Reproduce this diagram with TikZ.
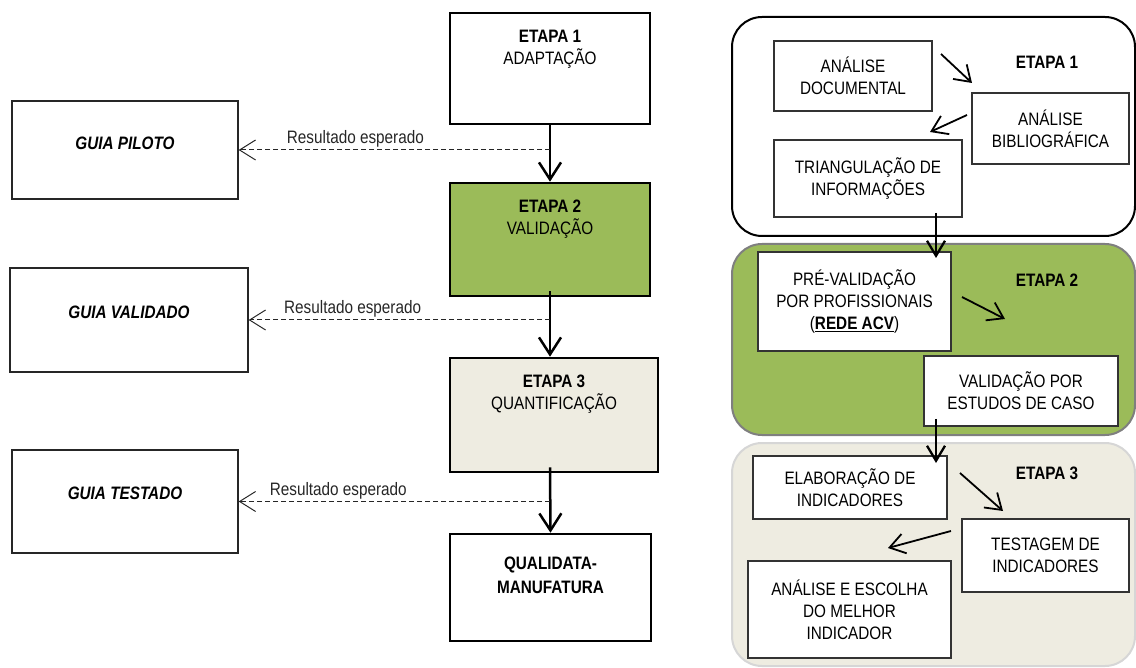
\documentclass[tikz,border=0pt]{standalone}
\usepackage{fontspec}
\setmainfont[FakeStretch=0.85]{Liberation Sans}
\usetikzlibrary{arrows.meta,calc}
\definecolor{stgreen}{HTML}{9BBB59}
\definecolor{stbeige}{HTML}{EEECE1}
\definecolor{panelgray}{HTML}{7F7F7F}
\definecolor{panellight}{HTML}{D6D6D6}
\begin{document}
\begin{tikzpicture}[x=1pt,y=-1pt,
  txt/.style={font=\fontsize{18}{22}\selectfont, align=center, text=black, inner sep=2pt},
  stagebox/.style={draw=black, line width=2.6pt, inner sep=0pt},
  guidebox/.style={draw=black!85, line width=1.3pt, inner sep=0pt},
  guidetxt/.style={font=\fontsize{18}{22}\selectfont\bfseries\itshape, inner sep=0pt},
  subbox/.style={draw=black!80, line width=1.2pt, fill=white, txt},
  panel/.style={rounded corners=30pt, line width=2pt, inner sep=0pt},
  flow/.style={line width=2.5pt, -{Straight Barb[length=17pt,width=22pt]}},
  rflow/.style={line width=2.3pt, -{Straight Barb[length=15pt,width=18pt]}},
  small/.style={line width=1.8pt, -{Straight Barb[length=15pt,width=20pt]}},
  res/.style={dash pattern=on 5pt off 3pt, line width=1pt, black!85, -{Straight Barb[length=16pt,width=20pt,line width=1pt]}},
  reslabel/.style={font=\fontsize{18}{20}\selectfont, anchor=south, inner sep=2pt}]
\useasboundingbox (0,0) rectangle (1136,668);

% ---------- left column ----------
\node[stagebox, minimum width=200pt, minimum height=111pt] (e1) at (550,68.5) {};
\node[txt, anchor=north] (e1t) at ([yshift=-16pt]e1.north) {\textbf{ETAPA 1}\\ADAPTAÇÃO};

\node[stagebox, fill=stgreen, minimum width=200pt, minimum height=113pt] (e2) at (550,239.5) {};
\node[txt, anchor=north] (e2t) at ([yshift=-16pt]e2.north) {\textbf{ETAPA 2}\\VALIDAÇÃO};

\node[stagebox, fill=stbeige, minimum width=208pt, minimum height=114pt] (e3) at (554,415) {};
\node[txt, anchor=north] (e3t) at ([yshift=-16pt]e3.north) {\textbf{ETAPA 3}\\QUANTIFICAÇÃO};

\node[stagebox, minimum width=201pt, minimum height=107pt] (q) at (550.5,587.5) {};
\node[txt, anchor=north, font=\fontsize{18}{24}\selectfont\bfseries] (qt) at ([yshift=-22pt]q.north) {QUALIDATA-\\MANUFATURA};

\node[guidebox, minimum width=226pt, minimum height=98pt] (g1) at (125,150) {};
\node[guidetxt] (g1t) at ([yshift=7pt]g1.center) {GUIA PILOTO};
\node[guidebox, minimum width=238pt, minimum height=104pt] (g2) at (129,320) {};
\node[guidetxt] (g2t) at ([yshift=8pt]g2.center) {GUIA VALIDADO};
\node[guidebox, minimum width=226pt, minimum height=103pt] (g3) at (125,501.5) {};
\node[guidetxt] (g3t) at ([yshift=8pt]g3.center) {GUIA TESTADO};

% vertical flow
\coordinate (s2) at (e1.south |- e2.south);
\coordinate (s3) at (e1.south |- e3.south);
\coordinate (t3) at (e1.south |- e3.north);
\draw[flow] (e1.south) -- (e2.north);
\draw[flow] ([yshift=6pt]s2) -- (t3);
\draw[flow] ([yshift=6pt]s3) -- (q.north);

% expected results
\coordinate (d1) at (e1.south |- g1.east);
\coordinate (d2) at (e1.south |- g2.east);
\coordinate (d3) at (e1.south |- g3.east);
\draw[res] (d1) -- (g1.east) node[reslabel, pos=0.625] (l1) {Resultado esperado};
\draw[res] (d2) -- (g2.east) node[reslabel, pos=0.655] (l2) {Resultado esperado};
\draw[res] (d3) -- (g3.east) node[reslabel, pos=0.68] (l3) {Resultado esperado};

% ---------- right column ----------
\node[panel, draw=black, fill=white, minimum width=403pt, minimum height=219pt] (p1) at (933.5,126.5) {};
\node[panel, draw=panelgray, fill=stgreen, minimum width=403pt, minimum height=191pt] (p2) at (933.5,339.5) {};
\node[panel, draw=panellight, fill=stbeige, minimum width=403pt, minimum height=223pt] (p3) at (933.5,554.5) {};

\node[txt, font=\fontsize{18}{22}\selectfont\bfseries] (p1t) at (1047,62) {ETAPA 1};
\node[txt, font=\fontsize{18}{22}\selectfont\bfseries] (p2t) at (1047,280) {ETAPA 2};
\node[txt, font=\fontsize{18}{22}\selectfont\bfseries] (p3t) at (1047,473) {ETAPA 3};

\node[subbox, minimum width=158pt, minimum height=70pt] (doc) at (853,76) {ANÁLISE\\DOCUMENTAL};
\node[subbox, minimum width=157pt, minimum height=71pt] (bib) at (1050.5,128.5) {ANÁLISE\\BIBLIOGRÁFICA};
\node[subbox, minimum width=188pt, minimum height=77pt] (tri) at (868,178.5) {TRIANGULAÇÃO DE\\INFORMAÇÕES};

\node[subbox, minimum width=193pt, minimum height=99pt] (pre) at (854.5,301.5) {PRÉ-VALIDAÇÃO\\POR PROFISSIONAIS\\(\underline{\textbf{REDE ACV}})};
\node[subbox, minimum width=194pt, minimum height=70pt] (val) at (1021,391) {VALIDAÇÃO POR\\ESTUDOS DE CASO};

\node[subbox, minimum width=194pt, minimum height=63pt] (ela) at (850,487.5) {ELABORAÇÃO DE\\INDICADORES};
\node[subbox, minimum width=167pt, minimum height=73pt] (tes) at (1045.5,555.5) {TESTAGEM DE\\INDICADORES};
\node[subbox, minimum width=203pt, minimum height=97pt] (ana) at (849.5,609.5) {ANÁLISE E ESCOLHA\\DO MELHOR\\INDICADOR};

% arrows inside panels
\coordinate (a1s) at (941,54);   \coordinate (a1e) at (972,83);
\coordinate (a2s) at (967,115);  \coordinate (a2e) at (930,132);
\coordinate (a3s) at (962,297);  \coordinate (a3e) at (1005,319);
\coordinate (a4s) at (960,473);  \coordinate (a4e) at (1003,511);
\coordinate (a5s) at (951,531);  \coordinate (a5e) at (888,548);
\draw[small] (a1s) -- (a1e);
\draw[small] (a2s) -- (a2e);
\draw[small] (a3s) -- (a3e);
\draw[small] (a4s) -- (a4e);
\draw[small] (a5s) -- (a5e);

% vertical links between panels
\coordinate (v1s) at (936,213);  \coordinate (v1e) at (936,258);
\coordinate (v2s) at (936,419);  \coordinate (v2e) at (936,463);
\draw[rflow] (v1s) -- (v1e);
\draw[rflow] (v2s) -- (v2e);
\end{tikzpicture}
\end{document}
